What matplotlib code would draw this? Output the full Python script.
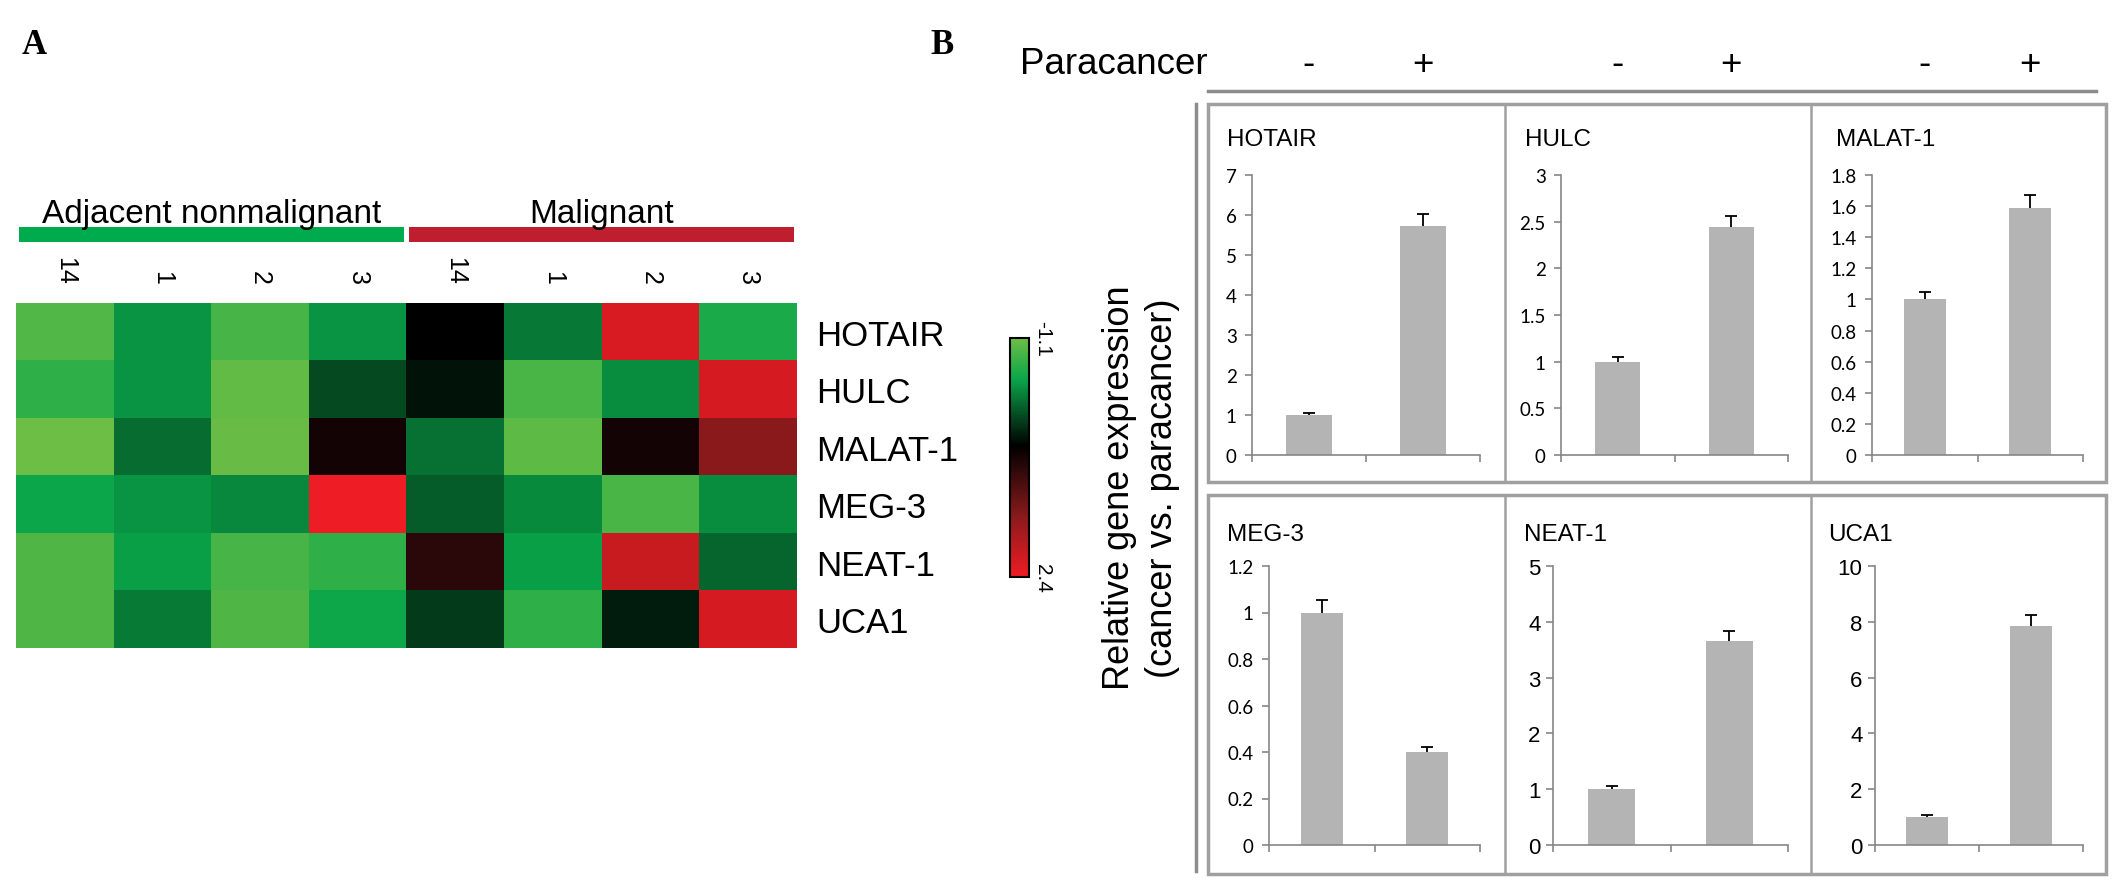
import numpy as np
import matplotlib
matplotlib.use('Agg')
import matplotlib.pyplot as plt
import matplotlib.transforms as mtransforms
from matplotlib.colors import LinearSegmentedColormap
from matplotlib.patches import Rectangle
from matplotlib.lines import Line2D
from matplotlib.ticker import FormatStrFormatter

## Heatmap data (panel A) ##
genes = ['HOTAIR', 'HULC', 'MALAT-1', 'MEG-3', 'NEAT-1', 'UCA1']
samples = ['14', '1', '2', '3', '14', '1', '2', '3']
groups = ['Adjacent nonmalignant', 'Malignant']
heat = np.array([
    [-0.93, -0.40, -0.86, -0.40, 0.48, -0.23, 2.20, -0.60],
    [-0.72, -0.39, -1.03, 0.04, 0.37, -0.87, -0.35, 2.17],
    [-1.10, -0.17, -1.07, 0.63, -0.19, -1.00, 0.63, 1.52],
    [-0.50, -0.40, -0.33, 2.40, -0.07, -0.34, -0.87, -0.35],
    [-0.92, -0.47, -0.86, -0.72, 0.79, -0.47, 2.07, -0.12],
    [-0.91, -0.25, -0.91, -0.52, 0.12, -0.72, 0.32, 2.17],
])
vmin, vmax = -1.1, 2.4

## Bar data (panel B) ##
conditions = ['-', '+']
minus_vals = [1.0, 1.0, 1.0, 1.0, 1.0, 1.0]
plus_vals = [5.72, 2.44, 1.59, 0.40, 3.65, 7.85]
minus_err = [0.05, 0.055, 0.05, 0.053, 0.06, 0.06]
plus_err = [0.30, 0.125, 0.08, 0.023, 0.19, 0.41]
y_max = [7, 3, 1.8, 1.2, 5, 10]
y_step = [1, 0.5, 0.2, 0.2, 1, 2]

W, H = 2126, 887
fig = plt.figure(figsize=(W / 100, H / 100), dpi=100)

# helpers to place things by pixel position (y measured from the top)
def box(x0, y0, x1, y1):
    return [x0 / W, 1 - y1 / H, (x1 - x0) / W, (y1 - y0) / H]

def fx(x):
    return x / W

def fy(y):
    return 1 - y / H

sans = 'Liberation Sans'
serif = 'Liberation Serif'

# panel letters
fig.text(fx(22), fy(45), 'A', fontsize=25, fontweight='bold', family=serif, ha='left', va='center')
fig.text(fx(930), fy(45), 'B', fontsize=25, fontweight='bold', family=serif, ha='left', va='center')

## Panel A: heatmap ##
cmap = LinearSegmentedColormap.from_list(
    'gbr', [(0, '#6dbe45'), (0.17, '#0aa64a'), (0.45, '#000000'), (0.75, '#8b1a1c'), (1, '#ee1c24')])

ax_h = fig.add_axes(box(16, 304, 797, 649))
im = ax_h.imshow(heat, cmap=cmap, vmin=vmin, vmax=vmax, aspect='auto', interpolation='nearest')
ax_h.set_xticks(range(len(samples)))
ax_h.set_xticklabels(samples, rotation=270, fontsize=18, family=sans)
ax_h.xaxis.tick_top()
ax_h.tick_params(axis='x', length=0, pad=14)
ax_h.set_yticks(range(len(genes)))
ax_h.set_yticklabels(genes, fontsize=25, family=sans)
ax_h.yaxis.tick_right()
ax_h.tick_params(axis='y', length=0, pad=14)
for s in ax_h.spines.values():
    s.set_visible(False)

# group bars above heatmap
ax_g = fig.add_axes(box(16, 228, 797, 243))
ax_g.set_xlim(-0.5, len(samples) - 0.5)
ax_g.set_ylim(0, 1)
ax_g.axis('off')
group_colors = ['#00ab4e', '#be1e2d']
for i, (g, c) in enumerate(zip(groups, group_colors)):
    ax_g.bar(i * 4 + 1.5, 1, width=3.94, bottom=0, color=c, align='center')
    ax_g.text(i * 4 + 1.5, 1.9, g, ha='center', va='center', fontsize=24, family=sans)

# colorbar
cax = fig.add_axes(box(1010, 339, 1029, 578))
cb = fig.colorbar(im, cax=cax)
cb.set_ticks([vmin, vmax])
cb.set_ticklabels(['-1.1', '2.4'])
cax.invert_yaxis()
cax.tick_params(length=0, pad=3, labelsize=15)
for lab in cax.get_yticklabels():
    lab.set_rotation(270)
    lab.set_va('center')
    lab.set_family(sans)
cb.outline.set_linewidth(1.5)
cb.outline.set_edgecolor('black')

## Panel B: bar charts ##
axes_px = [
    (1252, 176, 1480, 456), (1561, 176, 1788, 456), (1872, 176, 2083, 456),
    (1269, 567, 1480, 846), (1553, 567, 1788, 846), (1875, 567, 2083, 846),
]
title_px = [(1227, 140), (1525, 140), (1836, 140), (1227, 535), (1524, 535), (1828, 535)]
spine_c = '#868686'
bar_axes = []
for i, g in enumerate(genes):
    ax = fig.add_axes(box(*axes_px[i]))
    x = np.arange(len(conditions))
    vals = np.array([minus_vals[i], plus_vals[i]])
    errs = np.array([minus_err[i], plus_err[i]])
    ax.bar(x, vals, width=0.4, color='#b4b4b4', zorder=2)
    # upward-only error bars
    ax.vlines(x, vals, vals + errs, color='black', lw=1.3, zorder=3)
    ax.plot(x, vals + errs, linestyle='none', marker='_', markersize=9,
            markeredgewidth=1.3, color='black', zorder=3)
    ax.set_xlim(-0.5, 1.5)
    ax.set_ylim(0, y_max[i])
    ax.set_yticks(np.arange(0, y_max[i] + y_step[i] / 2, y_step[i]))
    ax.yaxis.set_major_formatter(FormatStrFormatter('%g'))
    ax.set_xticks([-0.5, 0.5, 1.5])
    ax.set_xticklabels([])
    for side in ['top', 'right']:
        ax.spines[side].set_visible(False)
    for side in ['left', 'bottom']:
        ax.spines[side].set_color(spine_c)
        ax.spines[side].set_linewidth(1.2)
    ax.tick_params(axis='both', direction='out', length=5, width=1.2, color=spine_c)
    if g in ('NEAT-1', 'UCA1'):
        ax.tick_params(axis='y', labelsize=16, pad=4)
        for lab in ax.get_yticklabels():
            lab.set_family(sans)
    else:
        ax.tick_params(axis='y', labelsize=13.5, pad=6)
        for lab in ax.get_yticklabels():
            lab.set_family('Lato')
    tx, ty = title_px[i]
    fig.text(fx(tx), fy(ty), g, fontsize=17.5, family=sans, ha='left', va='center')
    bar_axes.append(ax)

# Paracancer header with - / + signs above each column of charts
fig.text(fx(1020), fy(65), 'Paracancer', fontsize=26.5, family=sans, ha='left', va='center')
for ax in bar_axes[:3]:
    trans = mtransforms.blended_transform_factory(ax.transData, fig.transFigure)
    for xi, sign in enumerate(conditions):
        fig.text(xi, fy(65), sign, transform=trans, fontsize=26.5, family=sans,
                 ha='center', va='center')

# frame lines
line_c = '#a0a0a0'
fig.add_artist(Line2D([fx(1208), fx(2096)], [fy(92), fy(92)], color='#8c8c8c', lw=2.5))
fig.add_artist(Line2D([fx(1196), fx(1196)], [fy(105), fy(872)], color='#8c8c8c', lw=2.5))
for (y0, y1) in [(105, 483), (496, 875)]:
    fig.add_artist(Rectangle((fx(1208), fy(y1)), fx(2106) - fx(1208), fy(y0) - fy(y1),
                             transform=fig.transFigure, fill=False, edgecolor=line_c, lw=2.5))
    for xs in [1505, 1811]:
        fig.add_artist(Line2D([fx(xs), fx(xs)], [fy(y0), fy(y1)], color=line_c, lw=1.8))

# y label for panel B
fig.text(fx(1141), fy(488), 'Relative gene expression\n(cancer vs. paracancer)', rotation=90,
         fontsize=26, family=sans, ha='center', va='center', linespacing=1.3, multialignment='center')

fig.savefig('out.png', dpi=100)
